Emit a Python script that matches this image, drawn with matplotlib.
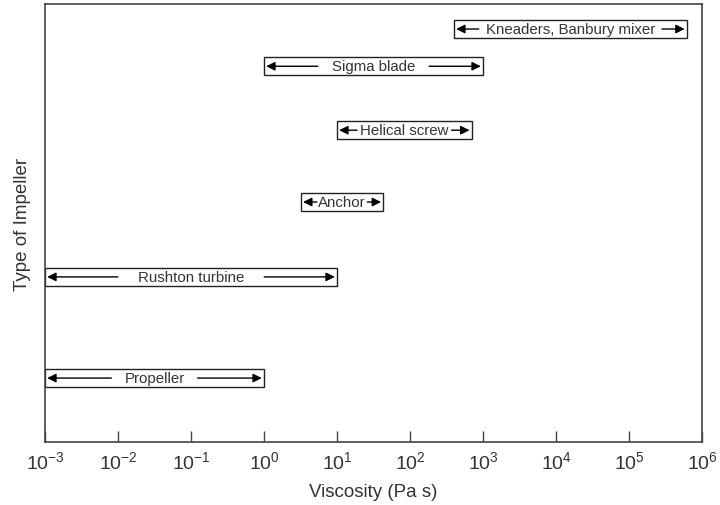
import numpy as np
import matplotlib
matplotlib.use("Agg")
import matplotlib.pyplot as plt
from matplotlib.patches import Rectangle

plt.rcParams["font.family"] = ["Liberation Sans", "DejaVu Sans"]

# impeller ranges (viscosity, Pa s)
IMPELLERS = ["Propeller", "Rushton turbine", "Anchor", "Helical screw",
             "Sigma blade", "Kneaders, Banbury mixer"]
VISC_LO = [1e-3, 1e-3, 3.2, 10, 1, 400]
VISC_HI = [1, 10, 43, 700, 1000, 6.2e5]
Y_POS = [0.146, 0.377, 0.548, 0.712, 0.858, 0.943]
# gap between label and arrow shafts, pixels
GAP_PX = [13, 20, 1.5, 3, 14, 7]

BOX_H = 0.040
LINE_C = "#222222"

fig = plt.figure(figsize=(7.2, 5.06), dpi=100)
ax = fig.add_axes([0.0625, 0.1245, 0.9125, 0.8655])
ax.set_xscale("log")
ax.set_xlim(1e-3, 1e6)
ax.set_ylim(0, 1)

labels = []
for name, lo, hi, y in zip(IMPELLERS, VISC_LO, VISC_HI, Y_POS):
    ax.add_patch(Rectangle((lo, y - BOX_H / 2), hi - lo, BOX_H,
                           fill=False, ec=LINE_C, lw=1.0, zorder=2))
    xc = np.sqrt(lo * hi)
    t = ax.text(xc, y, name, ha="center", va="center", fontsize=10.8,
                color="#333333", zorder=4)
    labels.append(t)

fig.canvas.draw()
inv = ax.transData.inverted()
k = 10 ** 0.03  # keep arrow tips just inside the box
for t, lo, hi, y, gap in zip(labels, VISC_LO, VISC_HI, Y_POS, GAP_PX):
    bb = t.get_window_extent()
    xl = inv.transform((bb.x0 - gap, 0))[0]
    xr = inv.transform((bb.x1 + gap, 0))[0]
    for start, end in [(xl, lo * k), (xr, hi / k)]:
        ax.annotate("", xy=(end, y), xytext=(start, y),
                    arrowprops=dict(arrowstyle="-|>", color="black", lw=1.0,
                                    mutation_scale=13, shrinkA=0, shrinkB=0),
                    zorder=3)

for s in ax.spines.values():
    s.set_color("#444444")
    s.set_linewidth(1.2)

ax.set_xticks([10.0 ** e for e in range(-3, 7)])
ax.minorticks_off()
ax.tick_params(axis="x", direction="in", length=8, width=1, color="#444444",
               labelsize=14, labelcolor="#333333", pad=6)
ax.set_yticks([])
ax.set_xlabel("Viscosity (Pa s)", fontsize=13.5, color="#333333", labelpad=8)
ax.set_ylabel("Type of Impeller", fontsize=13.5, color="#333333", labelpad=10)

fig.savefig("out.png", dpi=100)
